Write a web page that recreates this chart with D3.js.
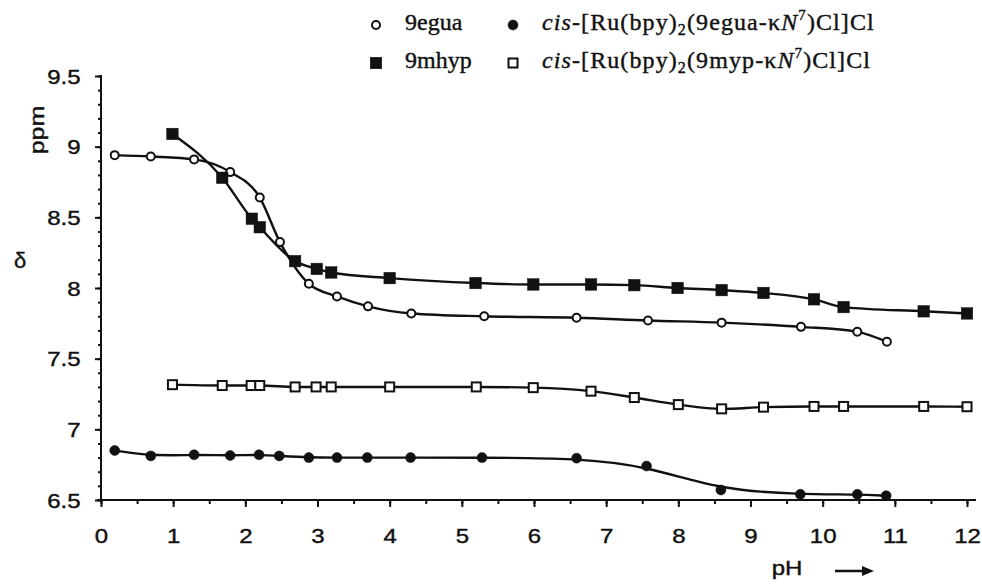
<!DOCTYPE html>
<html>
<head>
<meta charset="utf-8">
<script src="https://cdn.jsdelivr.net/npm/d3@7"></script>
<style>
  body { margin: 0; background: #fff; }
  svg { display: block; }
</style>
</head>
<body>
<div id="chart"></div>
<script>
const width = 982;
const height = 584;

// 9egua (open circles)
const pH9egua = [0.19, 0.69, 1.29, 1.79, 2.2, 2.48, 2.88, 3.27, 3.7, 4.3, 5.31, 6.59, 7.58, 8.6, 9.7, 10.48, 10.89];
const d9egua  = [8.94, 8.93, 8.91, 8.82, 8.64, 8.325, 8.03, 7.94, 7.87, 7.82, 7.80, 7.79, 7.77, 7.755, 7.725, 7.69, 7.62];

// 9mhyp (filled squares)
const pH9mhyp = [0.99, 1.68, 2.09, 2.2, 2.69, 2.99, 3.19, 4.0, 5.19, 5.99, 6.79, 7.39, 7.99, 8.6, 9.18, 9.88, 10.29, 11.4, 12.0];
const d9mhyp  = [9.09, 8.78, 8.49, 8.43, 8.19, 8.135, 8.11, 8.07, 8.035, 8.025, 8.025, 8.02, 8.0, 7.985, 7.965, 7.92, 7.865, 7.835, 7.82];

// cis-[Ru(bpy)2(9egua-kN7)Cl]Cl (filled circles)
const pHRuEgua = [0.19, 0.69, 1.29, 1.79, 2.19, 2.47, 2.88, 3.27, 3.69, 4.29, 5.28, 6.59, 7.56, 8.59, 9.69, 10.48, 10.88];
const dRuEgua  = [6.85, 6.812, 6.82, 6.815, 6.82, 6.812, 6.80, 6.80, 6.80, 6.80, 6.80, 6.796, 6.74, 6.571, 6.54, 6.54, 6.53];

// cis-[Ru(bpy)2(9myp-kN7)Cl]Cl (open squares)
const pHRuMyp = [0.99, 1.68, 2.08, 2.2, 2.69, 2.98, 3.19, 4.0, 5.2, 5.99, 6.79, 7.39, 8.0, 8.6, 9.18, 9.88, 10.29, 11.4, 12.0];
const dRuMyp  = [7.316, 7.31, 7.31, 7.31, 7.30, 7.30, 7.30, 7.30, 7.30, 7.295, 7.27, 7.225, 7.175, 7.145, 7.157, 7.162, 7.162, 7.162, 7.16];

const xMajor = d3.range(0, 13, 1);
const xMinor = d3.range(0, 12.01, 0.5);
const yMajor = [6.5, 7, 7.5, 8, 8.5, 9, 9.5];
const yMinor = d3.range(65, 96, 1).map(v => v / 10);

const svg = d3.select("#chart").append("svg")
    .attr("width", width)
    .attr("height", height);

const x = d3.scaleLinear().domain([0, 12]).range([101, 967]);
const y = d3.scaleLinear().domain([6.5, 9.5]).range([500, 76]);

const ink = "#111";
const sans = "'Liberation Sans', Arial, Helvetica, sans-serif";
const serif = "'Liberation Serif', 'Times New Roman', serif";

// axes
const yAxisG = svg.append("g").attr("transform", `translate(${x(0)},0)`);
yAxisG.append("g")
    .call(d3.axisLeft(y).tickValues(yMinor).tickSize(3).tickFormat("").tickSizeOuter(0));
yAxisG.append("g")
    .call(d3.axisLeft(y).tickValues(yMajor).tickSize(6).tickSizeOuter(0)
        .tickFormat(d => String(+d.toFixed(1))));
yAxisG.selectAll(".domain").remove();
yAxisG.selectAll("line").attr("stroke", ink).attr("stroke-width", 2);
yAxisG.selectAll("text")
    .attr("x", -17)
    .attr("dy", "0.36em")
    .attr("transform", "scale(1.2,1)")
    .style("font-family", sans)
    .style("font-size", "20px")
    .attr("fill", ink)
    .attr("stroke", ink)
    .attr("stroke-width", 0.4);

const xAxisG = svg.append("g").attr("transform", `translate(0,${y(6.5)})`);
xAxisG.append("g")
    .call(d3.axisBottom(x).tickValues(xMinor).tickSize(4).tickFormat("").tickSizeOuter(0));
xAxisG.append("g")
    .call(d3.axisBottom(x).tickValues(xMajor).tickSize(7).tickSizeOuter(0).tickFormat(d => d));
xAxisG.selectAll(".domain").remove();
xAxisG.selectAll("line").attr("stroke", ink).attr("stroke-width", 2);
xAxisG.selectAll("text")
    .attr("y", 29)
    .attr("dy", "0.71em")
    .attr("transform", "scale(1.2,1)")
    .style("font-family", sans)
    .style("font-size", "20px")
    .attr("fill", ink)
    .attr("stroke", ink)
    .attr("stroke-width", 0.4);

// axis lines
svg.append("line")
    .attr("x1", x(0)).attr("x2", x(0))
    .attr("y1", y(9.5) - 1).attr("y2", y(6.5))
    .attr("stroke", ink).attr("stroke-width", 2);
svg.append("line")
    .attr("x1", x(0) - 4).attr("x2", x(12) + 9)
    .attr("y1", y(6.5)).attr("y2", y(6.5))
    .attr("stroke", ink).attr("stroke-width", 2);

// axis titles
svg.append("text")
    .attr("transform", "translate(44,130) rotate(-90) scale(1.25,1)")
    .attr("text-anchor", "middle")
    .style("font-family", sans)
    .style("font-size", "20px")
    .attr("fill", ink)
    .attr("stroke", ink)
    .attr("stroke-width", 0.4)
    .text("ppm");

svg.append("text")
    .attr("x", 20)
    .attr("y", 268)
    .attr("text-anchor", "middle")
    .style("font-family", sans)
    .style("font-size", "22px")
    .attr("fill", ink)
    .attr("stroke", ink)
    .attr("stroke-width", 0.4)
    .text("δ");

svg.append("text")
    .attr("transform", "translate(787,575) scale(1.2,1)")
    .attr("text-anchor", "middle")
    .style("font-family", sans)
    .style("font-size", "20px")
    .attr("fill", ink)
    .attr("stroke", ink)
    .attr("stroke-width", 0.4)
    .text("pH");

svg.append("line")
    .attr("x1", 835).attr("x2", 864)
    .attr("y1", 571).attr("y2", 571)
    .attr("stroke", ink).attr("stroke-width", 2.5);
svg.append("path")
    .attr("d", "M862,566 L874,571 L862,576 Z")
    .attr("fill", ink);

// series
const series = [
    { xs: pH9egua, ys: d9egua, marker: "circle", filled: false, curve: d3.curveMonotoneX },
    { xs: pH9mhyp, ys: d9mhyp, marker: "square", filled: true, curve: d3.curveMonotoneX },
    { xs: pHRuEgua, ys: dRuEgua, marker: "circle", filled: true, curve: d3.curveBasis },
    { xs: pHRuMyp, ys: dRuMyp, marker: "square", filled: false, curve: d3.curveMonotoneX }
];

series.forEach(s => {
    const pts = s.xs.map((v, i) => [v, s.ys[i]]);
    svg.append("path")
        .datum(pts)
        .attr("fill", "none")
        .attr("stroke", ink)
        .attr("stroke-width", 2.4)
        .attr("d", d3.line().x(d => x(d[0])).y(d => y(d[1])).curve(s.curve));
});

function drawMarker(g, type, filled, cx, cy) {
    if (type === "circle") {
        g.append("circle")
            .attr("cx", cx).attr("cy", cy)
            .attr("r", filled ? 5 : 4)
            .attr("fill", filled ? ink : "#fff")
            .attr("stroke", ink)
            .attr("stroke-width", filled ? 0.5 : 2);
    } else {
        const s = filled ? 11.5 : 9;
        g.append("rect")
            .attr("x", cx - s / 2).attr("y", cy - s / 2)
            .attr("width", s).attr("height", s)
            .attr("fill", filled ? ink : "#fff")
            .attr("stroke", ink)
            .attr("stroke-width", filled ? 0.5 : 2);
    }
}

const marks = svg.append("g");
series.forEach(s => {
    s.xs.forEach((v, i) => drawMarker(marks, s.marker, s.filled, x(v), y(s.ys[i])));
});

// legend
const legend = svg.append("g");
const legendRows = [
    { mx: 376, my: 25, type: "circle", filled: false, tx: 405, ty: 30, label: "9egua" },
    { mx: 513, my: 25, type: "circle", filled: true, tx: 542, ty: 30, ligand: "9egua" },
    { mx: 376, my: 63, type: "square", filled: true, tx: 405, ty: 68, label: "9mhyp" },
    { mx: 513, my: 63, type: "square", filled: false, tx: 542, ty: 68, ligand: "9myp" }
];

legendRows.forEach(r => {
    drawMarker(legend, r.type, r.filled, r.mx, r.my);
    const t = legend.append("text")
        .attr("x", r.tx).attr("y", r.ty)
        .style("font-family", serif)
        .style("font-size", "24px")
        .attr("fill", ink)
        .attr("stroke", ink)
        .attr("stroke-width", 0.4);
    if (r.label) {
        t.text(r.label);
    } else {
        t.style("letter-spacing", "1.1px");
        t.append("tspan").style("font-style", "italic").text("cis");
        t.append("tspan").text("-[Ru(bpy)");
        t.append("tspan").attr("dy", 5).style("font-size", "16px").text("2");
        t.append("tspan").attr("dy", -5).text(`(${r.ligand}-κ`);
        t.append("tspan").style("font-style", "italic").text("N");
        t.append("tspan").attr("dy", -10).style("font-size", "15px").text("7");
        t.append("tspan").attr("dy", 10).text(")Cl]Cl");
    }
});
</script>
</body>
</html>
